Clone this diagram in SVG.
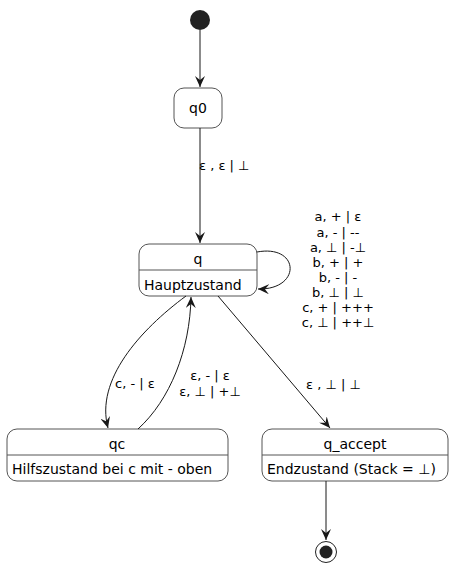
<svg xmlns="http://www.w3.org/2000/svg" width="455" height="570" viewBox="0 0 455 570">
<style>
.st{fill:#FFFFFF;stroke:#555555;stroke-width:1}
.div{stroke:#555555;stroke-width:1}
.t{font-family:"DejaVu Sans",sans-serif;font-size:14px;fill:#000}
.l{font-family:"DejaVu Sans",sans-serif;font-size:13px;fill:#000}
.c{fill:none;stroke:#181818;stroke-width:1}
</style>
<defs>
<marker id="ah" viewBox="0 0 12 10" refX="11" refY="5" markerWidth="12" markerHeight="10" markerUnits="userSpaceOnUse" orient="auto">
<path d="M0,0 L11,5 L0,10 L4,5 Z" fill="#181818"/>
</marker>
</defs>
<g id="start"><circle cx="200" cy="20" r="10" fill="#222222"/></g>
<g id="q0"><rect class="st" x="174" y="88" width="48" height="40" rx="10"/><text class="t" x="198" y="113" text-anchor="middle">q0</text></g>
<g id="q"><rect class="st" x="139" y="244" width="118" height="52" rx="10"/><line class="div" x1="139" y1="270" x2="257" y2="270"/><text class="t" x="198" y="264" text-anchor="middle">q</text><text class="t" x="144" y="290">Hauptzustand</text></g>
<g id="qc"><rect class="st" x="7" y="429" width="221" height="52" rx="10"/><line class="div" x1="7" y1="455" x2="228" y2="455"/><text class="t" x="117" y="449" text-anchor="middle">qc</text><text class="t" x="12" y="474">Hilfszustand bei c mit - oben</text></g>
<g id="q_accept"><rect class="st" x="262" y="429" width="186" height="52" rx="10"/><line class="div" x1="262" y1="455" x2="448" y2="455"/><text class="t" x="355" y="449" text-anchor="middle">q_accept</text><text class="t" x="267" y="474">Endzustand (Stack = ⊥)</text></g>
<g id="end"><circle cx="326" cy="552" r="10.5" fill="none" stroke="#222222" stroke-width="1"/><circle cx="326" cy="552" r="6.5" fill="#222222"/></g>
<g id="connectors">
<line class="c" x1="200" y1="30" x2="200" y2="87" marker-end="url(#ah)"/>
<line class="c" x1="200" y1="128" x2="200" y2="243" marker-end="url(#ah)"/>
<text class="l" x="199" y="170">ε , ε | ⊥</text>
<path class="c" d="M257,252 C300,244 302,290 258,289" marker-end="url(#ah)"/>
<g class="l" text-anchor="middle">
<text x="338" y="221">a, + | ε</text>
<text x="338" y="237">a, - | --</text>
<text x="338" y="252">a, ⊥ | -⊥</text>
<text x="338" y="267">b, + | +</text>
<text x="338" y="282">b, - | -</text>
<text x="338" y="297">b, ⊥ |  ⊥</text>
<text x="338" y="312">c, + | +++</text>
<text x="338" y="327">c, ⊥  | ++⊥</text>
</g>
<path class="c" d="M186,296 C140,330 95,380 108,428" marker-end="url(#ah)"/>
<text class="l" x="115" y="388">c, - | ε</text>
<path class="c" d="M138,429 C170,400 190,350 191,297" marker-end="url(#ah)"/>
<text class="l" x="210" y="380" text-anchor="middle">ε, - | ε</text>
<text class="l" x="210" y="396" text-anchor="middle">ε, ⊥ | +⊥</text>
<line class="c" x1="218" y1="296" x2="330" y2="428" marker-end="url(#ah)"/>
<text class="l" x="306" y="389">ε , ⊥ | ⊥</text>
<line class="c" x1="326" y1="481" x2="326" y2="540" marker-end="url(#ah)"/>
</g>
</svg>
